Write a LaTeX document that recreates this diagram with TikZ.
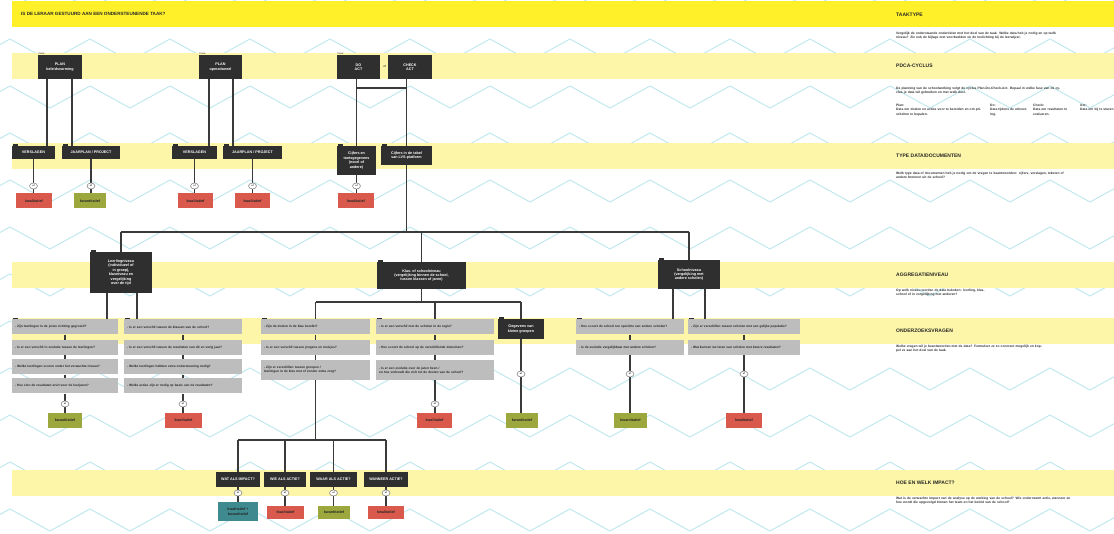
\documentclass[tikz,border=0pt]{standalone}
\usepackage{fontspec}
\setmainfont{Liberation Sans}
\usetikzlibrary{shapes.geometric}

\definecolor{boxdark}{HTML}{2F2F2F}
\definecolor{qgray}{HTML}{BDBDBD}
\definecolor{resred}{HTML}{D9594C}
\definecolor{resgreen}{HTML}{9CA83D}
\definecolor{resteal}{HTML}{3E8A8F}
\definecolor{linkgray}{HTML}{3A3A3A}
\definecolor{bandbright}{HTML}{FFF02A}
\definecolor{bandlight}{HTML}{FDF6A8}
\definecolor{zigcol}{HTML}{C2E8EF}

\newcommand\boxfont{\fontsize{3.7}{4.4}\selectfont\bfseries}
\newcommand\qfont{\fontsize{3.2}{4}\selectfont\bfseries}
\newcommand\headfont{\fontsize{5}{6}\selectfont\bfseries}
\newcommand\parfont{\fontsize{3.3}{4.4}\selectfont\bfseries}

\begin{document}
\begin{tikzpicture}[x=1pt,y=-1pt,
    darkbox/.style={rectangle,fill=boxdark,text=white,font=\boxfont,align=center,inner sep=1pt},
    qbox/.style={rectangle,fill=qgray,text=black!85,font=\qfont,align=left,inner xsep=3pt,inner ysep=1pt,text width=#1,minimum height=15},
    resbox/.style={rectangle,font=\boxfont,text=black!85,align=center,inner sep=1pt,minimum height=15},
    badge/.style={ellipse,draw=black!45,line width=0.6pt,fill=white,inner sep=0pt,minimum width=8,minimum height=6,font=\fontsize{2.2}{2.2}\selectfont\bfseries},
    link/.style={draw=linkgray,line width=1.3pt},
    zig/.style={draw=zigcol,line width=1pt},
    head/.style={font=\headfont,text=black!85,anchor=west,inner sep=0pt},
    para/.style={font=\parfont,text=black!80,align=left,anchor=north west,inner sep=0pt},
    fase/.style={font=\fontsize{2.6}{3}\selectfont,text=black!80,anchor=south west,inner sep=0.5pt}]
  \useasboundingbox (0,0) rectangle (1114,534);
  \clip (0,0) rectangle (1114,534);

  % achtergrond
  \foreach \r in {0,...,11}
    \draw[zig] (-30,14+47*\r) \foreach \k in {0,...,14} {-- ++(40,-22) -- ++(40,22)};
  \fill[bandbright] (12,1) rectangle (1114,27);
  \foreach \t/\b in {53/79,143/169,262/288,318/344,470/496}
    \fill[bandlight] (12,\t) rectangle (1114,\b);

  \node[head,font=\fontsize{4.6}{5}\selectfont\bfseries] (title) at (21,14) {IS DE LERAAR GESTUURD AAN EEN ONDERSTEUNENDE TAAK?};

  % rechterkolom
  \node[head] (hTaak) at (896,15) {TAAKTYPE};
  \node[para,text width=170] (pTaak) at (896,32) {Vergelijk de onderstaande onderdelen met het doel van de taak. Welke data heb je nodig en op welk niveau? Zie ook de bijlage met voorbeelden en de toelichting bij de leerwijzer.};
  \node[head] (hPdca) at (896,66) {PDCA-CYCLUS};
  \node[para,text width=168] (pPdca) at (896,87) {De planning van de schoolwerking volgt de cyclus Plan-Do-Check-Act. Bepaal in welke fase van de cyclus je data wil gebruiken en met welk doel.};
  \node[para,text width=88] (pPlan) at (896,104) {Plan:\\Data om doelen en acties voor te bereiden en om prioriteiten te bepalen.};
  \node[para,text width=38] (pDo) at (990,104) {Do:\\Data tijdens de uitvoering.};
  \node[para,text width=40] (pCheck) at (1033,104) {Check:\\Data om resultaten te evalueren.};
  \node[para,text width=36] (pAct) at (1080,104) {Act:\\Data om bij te sturen.};
  \node[head] (hType) at (896,156) {TYPE DATA/DOCUMENTEN};
  \node[para,text width=170] (pType) at (896,172) {Welk type data of documenten heb je nodig om de vragen te beantwoorden: cijfers, verslagen, teksten of andere bronnen uit de school?};
  \node[head] (hAggr) at (896,275) {AGGREGATIENIVEAU};
  \node[para,text width=96] (pAggr) at (896,289) {Op welk niveau worden de data bekeken: leerling, klas, school of in vergelijking met anderen?};
  \node[head] (hVrag) at (896,331) {ONDERZOEKSVRAGEN};
  \node[para,text width=146] (pVrag) at (896,345) {Welke vragen wil je beantwoorden met de data? Formuleer ze zo concreet mogelijk en koppel ze aan het doel van de taak.};
  \node[head] (hImp) at (896,483) {HOE EN WELK IMPACT?};
  \node[para,text width=180] (pImp) at (896,497) {Wat is de verwachte impact van de analyse op de werking van de school? Wie onderneemt actie, wanneer en hoe wordt die opgevolgd binnen het team en het beleid van de school?};

  % fase PDCA
  \node[darkbox,minimum width=44,minimum height=24] (plan1) at (60,67) {PLAN\\beleidsvorming};
  \node[darkbox,minimum width=43,minimum height=24] (plan2) at (220.5,67) {PLAN\\operationeel};
  \node[darkbox,minimum width=43,minimum height=24] (do) at (358.5,67) {DO\\ACT};
  \node[darkbox,minimum width=44,minimum height=24] (check) at (410,67) {CHECK\\ACT};
  \node[font=\fontsize{3}{3}\selectfont,inner sep=0pt] (of) at (384.5,66) {of};
  \node[fase] (f1) at (plan1.north west) {Fase:};
  \node[fase] (f2) at (plan2.north west) {Fase:};
  \node[fase] (f3) at (do.north west) {Fase:};

  % type data
  \node[darkbox,minimum width=43,minimum height=13] (d1) at (33.5,152.5) {VERSLAGEN};
  \node[darkbox,minimum width=58,minimum height=13] (d2) at (91,152.5) {JAARPLAN / PROJECT};
  \node[darkbox,minimum width=45,minimum height=13] (d3) at (194.5,152.5) {VERSLAGEN};
  \node[darkbox,minimum width=59,minimum height=13] (d4) at (252.5,152.5) {JAARPLAN / PROJECT};
  \node[darkbox,minimum width=39,minimum height=29] (d5) at (356.5,160.5) {Cijfers en\\toetsgegevens\\(excel of\\andere)};
  \node[darkbox,minimum width=51,minimum height=19] (d6) at (406.5,155.5) {Cijfers in de tabel\\van LVS-platform};

  \node[resbox,fill=resred,minimum width=36] (r1) at (34,201) {kwalitatief};
  \node[resbox,fill=resgreen,minimum width=32] (g1) at (90,201) {kwantitatief};
  \node[resbox,fill=resred,minimum width=35] (r2) at (195.5,201) {kwalitatief};
  \node[resbox,fill=resred,minimum width=35] (r3) at (252.5,201) {kwalitatief};
  \node[resbox,fill=resred,minimum width=36] (r4) at (356,201) {kwalitatief};

  % aggregatieniveau
  \node[darkbox,minimum width=62,minimum height=41] (a1) at (121,272.5) {Leerlingniveau\\(individueel of\\in groep),\\klasniveau en\\vergelijking\\over de tijd};
  \node[darkbox,minimum width=89,minimum height=27] (a2) at (421.5,275.5) {Klas- of schoolniveau\\(vergelijking binnen de school,\\tussen klassen of jaren)};
  \node[darkbox,minimum width=62,minimum height=29] (a3) at (689,274.5) {Schoolniveau\\(vergelijking met\\andere scholen)};

  % onderzoeksvragen
  \node[qbox=100] (q1a) at (65,327) {- Zijn leerlingen in de juiste richting gegroeid?};
  \node[qbox=100] (q1b) at (65,347.5) {- Is er een verschil in evolutie tussen de leerlingen?};
  \node[qbox=100] (q1c) at (65,367) {- Welke leerlingen scoren onder het verwachte niveau?};
  \node[qbox=100] (q1d) at (65,386) {- Hoe zien de resultaten eruit voor de leerjaren?};
  \node[qbox=112] (q2a) at (183,327) {- Is er een verschil tussen de klassen van de school?};
  \node[qbox=112] (q2b) at (183,347.5) {- Is er een verschil tussen de resultaten van dit en vorig jaar?};
  \node[qbox=112] (q2c) at (183,367) {- Welke leerlingen hebben extra ondersteuning nodig?};
  \node[qbox=112] (q2d) at (183,386) {- Welke acties zijn er nodig op basis van de resultaten?};
  \node[qbox=103] (q3a) at (315.5,327) {- Zijn de doelen in de klas bereikt?};
  \node[qbox=103] (q3b) at (315.5,347.5) {- Is er een verschil tussen jongens en meisjes?};
  \node[qbox=103,minimum height=20] (q3c) at (315.5,370) {- Zijn er verschillen tussen groepen /\\ leerlingen in de klas met of zonder extra zorg?};
  \node[qbox=112] (q4a) at (435,327) {- Is er een verschil met de scholen in de regio?};
  \node[qbox=112] (q4b) at (435,347.5) {- Hoe scoort de school op de verschillende domeinen?};
  \node[qbox=112,minimum height=20] (q4c) at (435,370) {- Is er een evolutie over de jaren heen /\\ en hoe verhoudt die zich tot de doelen van de school?};
  \node[darkbox,minimum width=46,minimum height=20] (q5) at (521,329) {Gegevens van\\kleine groepen};
  \node[qbox=102] (q6a) at (630,327) {- Hoe scoort de school ten opzichte van andere scholen?};
  \node[qbox=102] (q6b) at (630,347.5) {- Is de evolutie vergelijkbaar met andere scholen?};
  \node[qbox=106] (q7a) at (744,327) {- Zijn er verschillen tussen scholen met een gelijke populatie?};
  \node[qbox=106] (q7b) at (744,347.5) {- Wat kunnen we leren van scholen met betere resultaten?};

  \node[resbox,fill=resgreen,minimum width=34] (s1) at (65,420.5) {kwantitatief};
  \node[resbox,fill=resred,minimum width=37] (s2) at (183.5,420.5) {kwalitatief};
  \node[resbox,fill=resred,minimum width=35] (s4) at (434.5,420.5) {kwalitatief};
  \node[resbox,fill=resgreen,minimum width=32] (s5) at (522,420.5) {kwantitatief};
  \node[resbox,fill=resgreen,minimum width=33] (s6) at (630.5,420.5) {kwantitatief};
  \node[resbox,fill=resred,minimum width=36] (s7) at (744,420.5) {kwalitatief};

  % impact
  \node[darkbox,minimum width=44,minimum height=15] (i1) at (238,479.5) {WAT ALS IMPACT?};
  \node[darkbox,minimum width=42,minimum height=15] (i2) at (285,479.5) {WIE ALS ACTIE?};
  \node[darkbox,minimum width=47,minimum height=15] (i3) at (333.5,479.5) {WAAR ALS ACTIE?};
  \node[darkbox,minimum width=44,minimum height=15] (i4) at (386,479.5) {WANNEER ACTIE?};
  \node[resbox,fill=resteal,minimum width=40,minimum height=19] (t1) at (238,511.5) {kwalitatief +\\kwantitatief};
  \node[resbox,fill=resred,minimum width=37,minimum height=13] (t2) at (285.5,512.5) {kwalitatief};
  \node[resbox,fill=resgreen,minimum width=32,minimum height=13] (t3) at (334,512.5) {kwantitatief};
  \node[resbox,fill=resred,minimum width=36,minimum height=13] (t4) at (386,512.5) {kwalitatief};

  % tabjes
  \foreach \n in {d1,d2,d3,d4,d5,d6,a1,a2,a3,q1a,q2a,q3a,q4a,q5,q6a,q7a}
    \fill[boxdark] ([xshift=1]\n.north west) rectangle ++(5pt,1.6pt);

  % verbindingen
  \coordinate (pdcajoin) at (0,88);
  \coordinate (bus1) at (0,232);
  \coordinate (bus2) at (0,302);
  \coordinate (bus3) at (0,440);
  \coordinate (yb1) at (0,186);
  \coordinate (yb2) at (0,404);
  \coordinate (yb3) at (0,374);
  \coordinate (yb4) at (0,493);

  \draw[link] ([xshift=-13]plan1.south) -- ([xshift=-13]plan1.south |- d1.north);
  \draw[link] ([xshift=12]plan1.south) -- ([xshift=12]plan1.south |- d2.north);
  \draw[link] ([xshift=-11.5]plan2.south) -- ([xshift=-11.5]plan2.south |- d3.north);
  \draw[link] ([xshift=12.5]plan2.south) -- ([xshift=12.5]plan2.south |- d4.north);
  \draw[link] (d5.north |- do.south) -- (d5.north);
  \draw[link] (d6.north |- check.south) -- (d6.north);
  \draw[link] (d5.north |- pdcajoin) -- (d6.north |- pdcajoin);

  \draw[link] (d6.south) -- (d6.south |- bus1);
  \draw[link] (a1.north |- bus1) -- (a3.north |- bus1);
  \foreach \a in {a1,a2,a3}
    \draw[link] (\a.north |- bus1) -- (\a.north);

  \draw[link] ([xshift=-14]a1.south) -- ([xshift=-14]a1.south |- q1a.north);
  \draw[link] ([xshift=16]a1.south) -- ([xshift=16]a1.south |- q2a.north);
  \draw[link] (a2.south) -- (a2.south |- bus2);
  \draw[link] (q3a.north |- bus2) -- (q5.north |- bus2);
  \foreach \q in {q3a,q4a,q5}
    \draw[link] (\q.north |- bus2) -- (\q.north);
  \draw[link] ([xshift=-16]a3.south) -- ([xshift=-16]a3.south |- q6a.north);
  \draw[link] ([xshift=16]a3.south) -- ([xshift=16]a3.south |- q7a.north);

  \foreach \u/\v in {q1a/q1b,q1b/q1c,q1c/q1d,q2a/q2b,q2b/q2c,q2c/q2d,q3a/q3b,q3b/q3c,q4a/q4b,q4b/q4c,q6a/q6b,q7a/q7b}
    \draw[link] (\u.south) -- (\v.north);

  \draw[link] (q3c.south) -- (q3c.south |- bus3);
  \draw[link] (i1.north |- bus3) -- (i4.north |- bus3);
  \foreach \i in {i1,i2,i3,i4}
    \draw[link] (\i.north |- bus3) -- (\i.north);

  % naar type analyse
  \foreach \a/\b/\y in {d1/r1/yb1,d2/g1/yb1,d3/r2/yb1,d4/r3/yb1,d5/r4/yb1,
      q1d/s1/yb2,q2d/s2/yb2,q4c/s4/yb2,q5/s5/yb3,q6b/s6/yb3,q7b/s7/yb3,
      i1/t1/yb4,i2/t2/yb4,i3/t3/yb4,i4/t4/yb4}{
    \draw[link] (\a.south) -- (\a.south |- \b.north);
    \node[badge] (b\b) at (\a.south |- \y) {of};
  }
\end{tikzpicture}
\end{document}
